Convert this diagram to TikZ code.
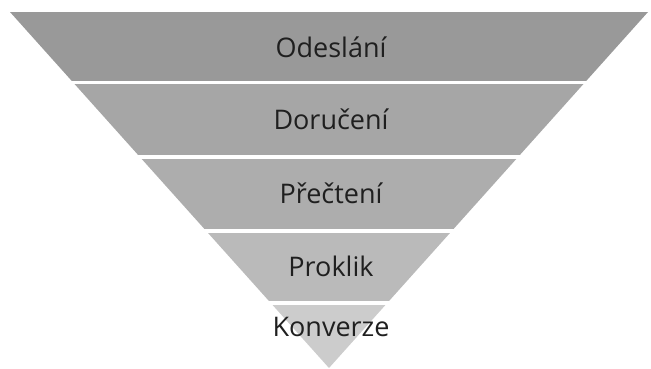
\documentclass[tikz,border=0pt]{standalone}
\usepackage{fontspec}
\setmainfont{Open Sans}
\begin{document}
\begin{tikzpicture}[x=1pt,y=1pt,
  label/.style={anchor=base,inner sep=0pt,font=\fontsize{27}{30}\selectfont,text=black!88}]
\useasboundingbox (0,0) rectangle (651,368);
% funnel outline: top edge and apex
\coordinate (tl) at (10,356);
\coordinate (tr) at (648,356);
\coordinate (apex) at (329,0);
\begin{scope}
  \clip (tl) -- (tr) -- (apex) -- cycle;
  \fill[black!40] (0,287.5) rectangle (651,356);
  \fill[black!35] (0,212.7) rectangle (651,284);
  \fill[black!32] (0,139) rectangle (651,209.3);
  \fill[black!27] (0,67) rectangle (651,135.5);
  \fill[black!20] (0,0) rectangle (651,63.5);
\end{scope}
\node[label] (s1) at (331,311) {Odeslání};
\node[label] (s2) at (331,238.7) {Doručení};
\node[label] (s3) at (331,164.5) {Přečtení};
\node[label] (s4) at (331,91.7) {Proklik};
\node[label] (s5) at (331,31.3) {Konverze};
\end{tikzpicture}
\end{document}
